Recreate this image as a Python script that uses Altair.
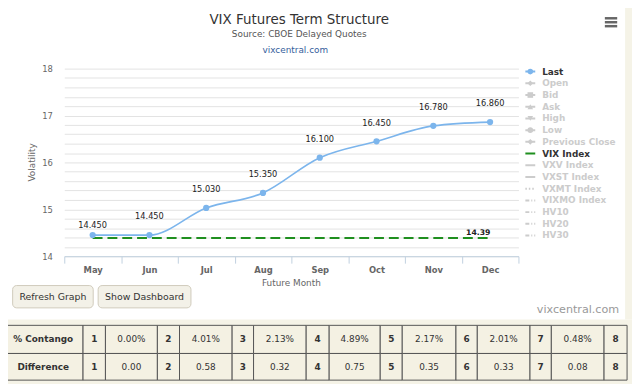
import altair as alt
import pandas as pd

# ---------------- data ----------------
months = ["May", "Jun", "Jul", "Aug", "Sep", "Oct", "Nov", "Dec"]
last_values = [14.45, 14.45, 15.03, 15.35, 16.10, 16.45, 16.78, 16.86]
vix_index = [14.39, 14.39, 14.39, 14.39, 14.39, 14.39, 14.39, 14.39]
y_ticks = [14.0, 14.2, 14.4, 14.6, 14.8, 15.0, 15.2, 15.4, 15.6, 15.8, 16.0,
           16.2, 16.4, 16.6, 16.8, 17.0, 17.2, 17.4, 17.6, 17.8, 18.0]
legend_names = ["Last", "Open", "Bid", "Ask", "High", "Low", "Previous Close",
                "VIX Index", "VXV Index", "VXST Index", "VXMT Index", "VIXMO Index",
                "HV10", "HV20", "HV30"]
legend_active = [True, False, False, False, False, False, False,
                 True, False, False, False, False, False, False, False]
legend_shapes = ["circle", "diamond", "square", "triangle-up", "triangle-down", "circle", "diamond",
                 None, None, None, None, None, None, None, None]
legend_dash = ["solid", "solid", "solid", "solid", "solid", "solid", "solid",
               "solid", "solid", "solid", "dot", "dashdot", "dashdot", "dashdot", "dashdot"]
table_labels = ["% Contango", "Difference"]
contango = ["0.00%", "4.01%", "2.13%", "4.89%", "2.17%", "2.01%", "0.48%"]
difference = ["0.00", "0.58", "0.32", "0.75", "0.35", "0.33", "0.08"]

# ---------------- layout / style ----------------
FONT = "DejaVu Sans"
BG = "#f5f3e7"
CELL = "#f4f1e3"
GRID = "#e3e3e3"
AXISC = "#c0d0e0"
LINEC = "#7cb5ec"
GREEN = "#1f8f1f"
INACTIVE = "#cccccc"
DARK = "#333333"

PX0, PY0 = 65, 67          # page position of the plot area
W, H = 460, 190
TOTAL_W, TOTAL_H = 632, 376


def X(p):
    return p - PX0


def Y(p):
    return p - PY0


ONE = pd.DataFrame({"k": [0]})


def txt(text, x, y, size, color, weight="normal", align="center", angle=0):
    return alt.Chart(ONE).mark_text(
        text=text, font=FONT, fontSize=size, color=color, fontWeight=weight,
        align=align, baseline="middle", angle=angle
    ).encode(x=alt.value(x), y=alt.value(y))


def box(x1, x2, y1, y2, fill, stroke=None, sw=1, radius=0):
    kw = dict(fill=fill, cornerRadius=radius)
    if stroke:
        kw.update(stroke=stroke, strokeWidth=sw)
    return alt.Chart(ONE).mark_rect(**kw).encode(
        x=alt.value(x1), x2=alt.value(x2), y=alt.value(y1), y2=alt.value(y2))


def rule(x1, x2, y, color, width):
    return alt.Chart(ONE).mark_rule(color=color, strokeWidth=width).encode(
        x=alt.value(x1), x2=alt.value(x2), y=alt.value(y))


df = pd.DataFrame({"month": months, "last": last_values, "vix": vix_index})

xenc = alt.X(
    "month:N", sort=months, title=None,
    scale=alt.Scale(type="band", paddingInner=0, paddingOuter=0),
    axis=alt.Axis(labelAngle=0, tickBand="extent", tickSize=7, tickColor=AXISC,
                  domainColor=AXISC, labelColor="#666666", labelFont=FONT,
                  labelFontSize=8.5, labelFontWeight="bold", labelPadding=2, grid=False),
)
yscale = alt.Scale(domain=[14, 18], nice=False, zero=False)
yaxis = alt.Axis(values=y_ticks, grid=True, gridColor=GRID, domain=False, ticks=False,
                 format=".0f",
                 labelExpr="datum.value % 1 === 0 ? datum.label : ''",
                 labelPadding=12, labelColor="#666666", labelFont=FONT, labelFontSize=8.5)

base = alt.Chart(df)

vix_line = base.mark_line(color=GREEN, strokeWidth=2, strokeDash=[10, 5]).encode(
    x=xenc, y=alt.Y("vix:Q", scale=yscale, axis=yaxis, title=None))
last_line = base.mark_line(color=LINEC, strokeWidth=1.6, interpolate="monotone").encode(
    x=xenc, y=alt.Y("last:Q", scale=yscale, axis=yaxis, title=None))
last_pts = base.mark_circle(color=LINEC, size=40, opacity=1).encode(
    x=xenc, y=alt.Y("last:Q", scale=yscale, axis=yaxis, title=None))
lab_first = base.transform_filter("datum.month == 'May'").mark_text(
    dy=-9, font=FONT, fontSize=8.3, color="#222222").encode(
    x=xenc, y=alt.Y("last:Q", scale=yscale, axis=yaxis, title=None),
    text=alt.Text("last:Q", format=".3f"))
lab_rest = base.transform_filter("datum.month != 'May'").mark_text(
    dy=-18, font=FONT, fontSize=8.3, color="#222222").encode(
    x=xenc, y=alt.Y("last:Q", scale=yscale, axis=yaxis, title=None),
    text=alt.Text("last:Q", format=".3f"))
vix_lab = base.transform_filter("datum.month == 'Dec'").mark_text(
    dx=-12, dy=-5, font=FONT, fontSize=7.8, fontWeight="bold", color="#222222").encode(
    x=xenc, y=alt.Y("vix:Q", scale=yscale, axis=yaxis, title=None),
    text=alt.Text("vix:Q", format=".2f"))

layers = []
# cream surround (below and right of the white chart panel)
layers.append(box(X(0), X(660), Y(321), Y(400), BG))
layers.append(box(X(633), X(660), Y(0), Y(321), BG))
layers += [vix_line, last_line, last_pts, lab_first, lab_rest, vix_lab]

# titles
layers.append(txt("VIX Futures Term Structure", X(303), Y(18), 13.6, DARK))
layers.append(txt("Source: CBOE Delayed Quotes", X(303), Y(32), 9, "#555555"))
layers.append(txt("vixcentral.com", X(299), Y(48), 9, "#35609c"))
# axis titles
layers.append(txt("Volatility", X(32), Y(162), 9, "#666666", angle=270))
layers.append(txt("Future Month", X(295), Y(284), 9, "#666666"))
# hamburger menu
for yy in [16, 20, 24]:
    layers.append(rule(X(612.5), X(625), Y(yy), "#666666", 2.5))

# legend
leg_rows = []
for i, name in enumerate(legend_names):
    active = legend_active[i]
    if name == "Last":
        col = LINEC
    elif name == "VIX Index":
        col = GREEN
    else:
        col = INACTIVE
    leg_rows.append({"name": name, "y": Y(70 + i * 11.86), "col": col,
                     "tcol": DARK if active else INACTIVE,
                     "shape": legend_shapes[i], "dash": legend_dash[i]})
leg = pd.DataFrame(leg_rows)
leg_y = alt.Y("y:Q", scale=None)
layers.append(alt.Chart(leg).mark_text(font=FONT, fontSize=9, fontWeight="bold",
                                        align="left", baseline="middle").encode(
    x=alt.value(X(549)), y=leg_y, text="name:N", color=alt.Color("tcol:N", scale=None)))
dash_styles = {"solid": [1, 0], "dot": [1.5, 2], "dashdot": [4, 2, 1, 2]}
for dname, dpat in dash_styles.items():
    sub = leg[leg["dash"] == dname]
    layers.append(alt.Chart(sub).mark_rule(strokeWidth=2, strokeDash=dpat).encode(
        x=alt.value(X(532)), x2=alt.value(X(542)), y=leg_y,
        color=alt.Color("col:N", scale=None)))
layers.append(alt.Chart(leg[leg["shape"].notna()]).mark_point(filled=True, size=32, opacity=1).encode(
    x=alt.value(X(537)), y=leg_y, shape=alt.Shape("shape:N", scale=None),
    color=alt.Color("col:N", scale=None)))

# buttons and watermark
layers.append(box(X(12.7), X(94.3), Y(286.7), Y(309.3), "#f3f1e8", "#cfcabb", 1, 4))
layers.append(box(X(99.3), X(193.3), Y(286.7), Y(309.3), "#f3f1e8", "#cfcabb", 1, 4))
layers.append(txt("Refresh Graph", X(53.5), Y(298), 9.5, DARK))
layers.append(txt("Show Dashboard", X(146.3), Y(298), 9.5, DARK))
layers.append(txt("vixcentral.com", X(627), Y(312), 11.3, "#999999", align="right"))

# table
col_edges = [3.3, 84, 106.7, 159.3, 181.7, 235, 256.7, 310, 333.3, 385, 407.3,
             461.7, 483.3, 536.7, 558.3, 611.7, 635]
row_edges = [327, 355.5, 382.5]
cells = []
for r, (label, vals) in enumerate(zip(table_labels, [contango, difference])):
    texts = [(label, True)]
    for i, v in enumerate(vals):
        texts.append((str(i + 1), True))
        texts.append((v, False))
    texts.append((str(len(vals) + 1), True))
    for c, (t, bold) in enumerate(texts):
        x0, x1 = X(col_edges[c]), X(col_edges[c + 1])
        y0, y1 = Y(row_edges[r]), Y(row_edges[r + 1])
        cells.append({"x0": x0, "x1": x1, "y0": y0, "y1": y1,
                      "xc": (x0 + x1) / 2, "yc": (y0 + y1) / 2, "t": t, "bold": bold})
tdf = pd.DataFrame(cells)
layers.append(alt.Chart(tdf).mark_rect(fill=CELL, stroke="#555555", strokeWidth=1).encode(
    x=alt.X("x0:Q", scale=None), x2="x1", y=alt.Y("y0:Q", scale=None), y2="y1"))
layers.append(alt.Chart(tdf[tdf["bold"]]).mark_text(font=FONT, fontSize=9, fontWeight="bold",
                                                   color=DARK, baseline="middle").encode(
    x=alt.X("xc:Q", scale=None), y=alt.Y("yc:Q", scale=None), text="t:N"))
layers.append(alt.Chart(tdf[~tdf["bold"]]).mark_text(font=FONT, fontSize=9,
                                                    color=DARK, baseline="middle").encode(
    x=alt.X("xc:Q", scale=None), y=alt.Y("yc:Q", scale=None), text="t:N"))

chart = alt.layer(*layers).properties(
    width=W, height=H,
    autosize=alt.AutoSizeParams(type="none"),
    padding={"left": PX0 - 8, "top": PY0 - 8,
             "right": TOTAL_W - (PX0 - 8) - W, "bottom": TOTAL_H - (PY0 - 8) - H},
    background="white",
).configure_view(stroke=None)

chart.save("out.html", embed_options={"renderer": "svg", "actions": False})
